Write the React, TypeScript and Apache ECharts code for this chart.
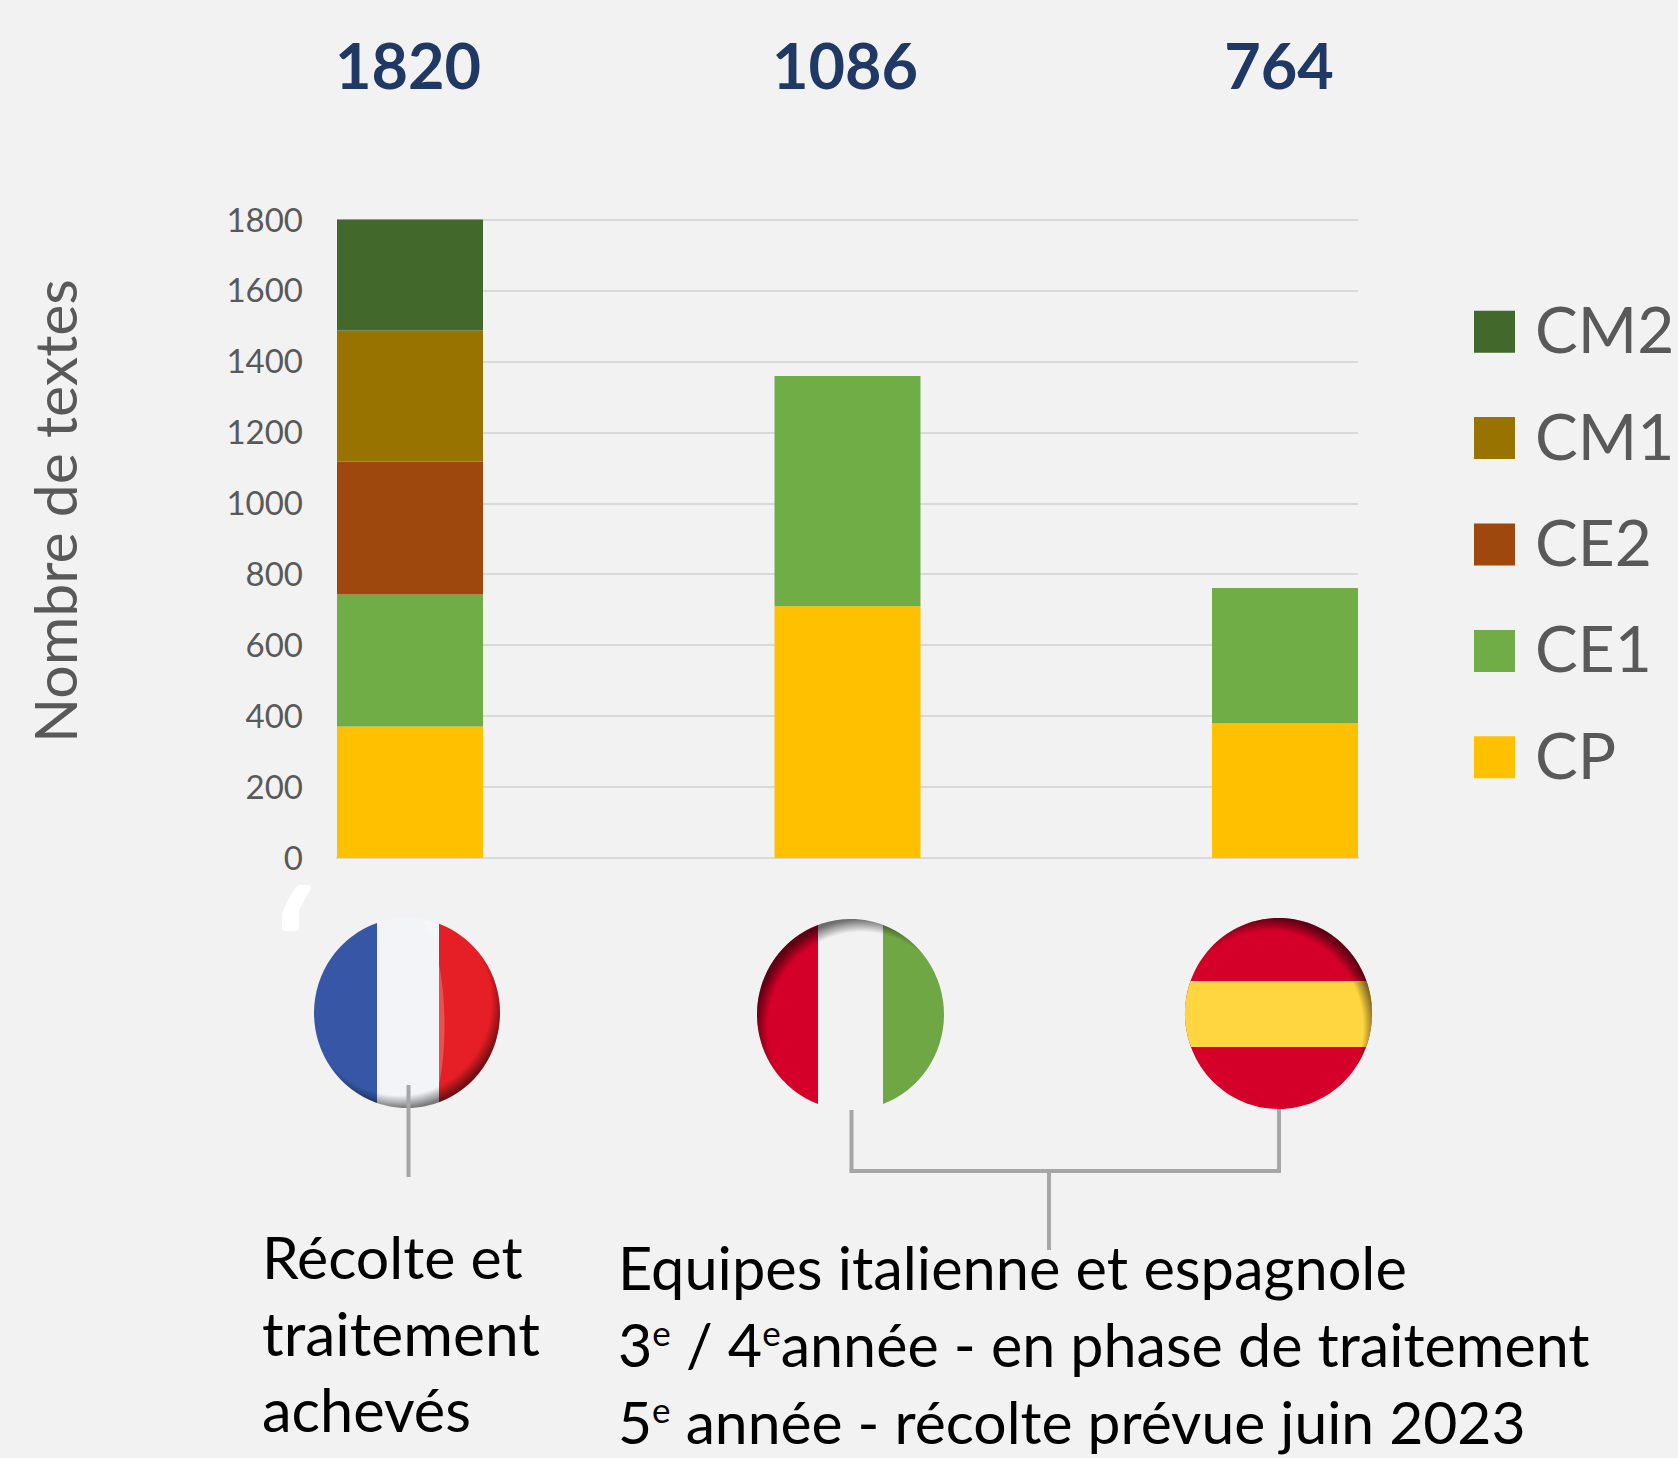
import React, { useEffect, useRef } from "react";
import * as echarts from "echarts";

const categories = ["France", "Italie", "Espagne"];
const cp = [371, 710, 380];
const ce1 = [372, 649, 381];
const ce2 = [375, 0, 0];
const cm1 = [369, 0, 0];
const cm2 = [333, 0, 0];
const totals = ["1820", "1086", "764"];
const legendOrder = ["CM2", "CM1", "CE2", "CE1", "CP"];
const yMax = 1800;
const yStep = 200;

const FONT = "Lato, 'Noto Sans', sans-serif";

function leftSeg(cx: number, cy: number, rx: number, ry: number, x: number) {
  const dy = ry * Math.sqrt(1 - ((x - cx) / rx) ** 2);
  return `M${x} ${cy - dy} A${rx} ${ry} 0 0 0 ${x} ${cy + dy} Z`;
}
function rightSeg(cx: number, cy: number, rx: number, ry: number, x: number) {
  const dy = ry * Math.sqrt(1 - ((x - cx) / rx) ** 2);
  return `M${x} ${cy - dy} A${rx} ${ry} 0 0 1 ${x} ${cy + dy} Z`;
}
function band(cx: number, cy: number, rx: number, ry: number, y0: number, y1: number) {
  const d0 = rx * Math.sqrt(1 - ((y0 - cy) / ry) ** 2);
  const d1 = rx * Math.sqrt(1 - ((y1 - cy) / ry) ** 2);
  return `M${cx - d0} ${y0} L${cx + d0} ${y0} A${rx} ${ry} 0 0 1 ${cx + d1} ${y1} L${cx - d1} ${y1} A${rx} ${ry} 0 0 1 ${cx - d0} ${y0} Z`;
}

const shapes: Record<string, string> = {
  frLeft: leftSeg(407, 1013, 93, 95, 377),
  frRight: rightSeg(407, 1013, 93, 95, 439),
  frGloss: "M422 919 C436 922 439 926 439 926 L439 1085 C447 1050 450 960 422 919 Z",
  itLeft: leftSeg(850.5, 1014.5, 93.5, 95.5, 818),
  itRight: rightSeg(850.5, 1014.5, 93.5, 95.5, 883),
  esBand: band(1278.5, 1013.5, 93.5, 95.5, 981, 1047),
  comma: "M298 885 L308 885 C311 885 311 888 310 890 L299 910 L299 927 C299 930 297 931 294 931 L287 931 C284 931 282 930 282 926 L282 915 C284 906 293 890 298 885 Z",
};
Object.entries(shapes).forEach(([k, d]) => {
  echarts.graphic.registerShape(k, echarts.graphic.extendPath(d, {}));
});

const vignette = (x: number, y: number, r: number, a: number) =>
  new echarts.graphic.RadialGradient(x, y, r, [
    { offset: 0, color: "rgba(0,0,0,0)" },
    { offset: 0.88, color: "rgba(0,0,0,0)" },
    { offset: 1, color: `rgba(0,0,0,${a})` },
  ]);

const ellipse = (cx: number, cy: number, rx: number, ry: number, fill: any) => ({
  type: "ellipse",
  shape: { cx, cy, rx, ry },
  style: { fill },
});
const path = (type: string, fill: string) => ({ type, x: 0, y: 0, style: { fill } });
const line = (x1: number, y1: number, x2: number, y2: number) => ({
  type: "line",
  shape: { x1, y1, x2, y2 },
  style: { stroke: "#a6a6a6", lineWidth: 4 },
});
const body = (x: number, y: number, text: string, size: number) => ({
  type: "text",
  x,
  y,
  style: { text, fill: "#000", font: `${size}px ${FONT}`, verticalAlign: "middle" },
});
const sup = (x: number, y: number, parts: string, size: number) => ({
  type: "text",
  x,
  y,
  style: {
    text: parts,
    fill: "#000",
    font: `${size}px ${FONT}`,
    verticalAlign: "middle",
    rich: {
      a: { fontFamily: FONT, fontSize: size, fill: "#000" },
      s: { fontFamily: FONT, fontSize: 35, fill: "#000", verticalAlign: "top", lineHeight: 24 },
    },
  },
});
const total = (x: number, text: string) => ({
  type: "text",
  x,
  y: 64,
  style: { text, fill: "#1f3864", font: `bold 63px ${FONT}`, align: "center", verticalAlign: "middle" },
});

export default function App() {
  const ref = useRef<HTMLDivElement>(null);
  useEffect(() => {
    const chart = echarts.init(ref.current!, undefined, { renderer: "svg" });
    const colors = ["#ffc000", "#70ad47", "#9e480e", "#997300", "#43682b"];
    const names = ["CP", "CE1", "CE2", "CM1", "CM2"];
    const vals = [cp, ce1, ce2, cm1, cm2];
    chart.setOption({
      animation: false,
      backgroundColor: "#f2f2f2",
      grid: [
        { left: 337, width: 1021, top: 219.5, height: 638.5 },
        { left: 191.25, width: 1312.5, top: 219.5, height: 638.5 },
      ],
      xAxis: [
        {
          gridIndex: 0,
          type: "category",
          data: categories,
          axisTick: { show: false },
          axisLabel: { show: false },
          axisLine: { lineStyle: { color: "#d9d9d9", width: 2 } },
        },
        {
          gridIndex: 1,
          type: "category",
          data: categories,
          axisTick: { show: false },
          axisLabel: { show: false },
          axisLine: { show: false },
        },
      ],
      yAxis: [
        {
          gridIndex: 0,
          type: "value",
          min: 0,
          max: yMax,
          interval: yStep,
          axisLine: { show: false },
          axisTick: { show: false },
          axisLabel: {
            margin: 34,
            formatter: (v: number) => `{t|${v}}`,
            rich: {
              t: { color: "#595959", fontSize: 33, fontFamily: FONT, padding: [0, 0, 2, 0] },
            },
          },
          splitLine: { lineStyle: { color: "#d9d9d9", width: 2 } },
        },
        {
          gridIndex: 1,
          type: "value",
          min: 0,
          max: yMax,
          interval: yStep,
          show: false,
          splitLine: { show: false },
        },
      ],
      legend: {
        orient: "vertical",
        left: 1474,
        top: 296.7,
        padding: 0,
        itemWidth: 41,
        itemHeight: 42,
        itemGap: 42.4,
        icon: "rect",
        selectedMode: false,
        data: legendOrder,
        formatter: "{t|{name}}",
        textStyle: {
          padding: [0, 0, 0, 15],
          rich: {
            t: { color: "#595959", fontSize: 64, fontFamily: FONT, padding: [0, 0, 6, 0] },
          },
        },
      },
      series: names.map((name, i) => ({
        name,
        type: "bar",
        stack: "total",
        xAxisIndex: 1,
        yAxisIndex: 1,
        barWidth: 146,
        itemStyle: { color: colors[i] },
        data: vals[i],
      })),
      graphic: {
        elements: [
          total(408, totals[0]),
          total(845, totals[1]),
          total(1279, totals[2]),
          {
            type: "text",
            x: 54,
            y: 511,
            rotation: Math.PI / 2,
            style: {
              text: "Nombre de textes",
              fill: "#595959",
              font: `59px ${FONT}`,
              align: "center",
              verticalAlign: "middle",
            },
          },
          path("comma", "#ffffff"),
          ellipse(407, 1013, 93, 95, "#f3f4f8"),
          path("frLeft", "#3757a6"),
          path("frRight", "#e61e25"),
          path("frGloss", "rgba(255,255,255,0.22)"),
          ellipse(407, 1013, 93, 95, vignette(0.46, 0.44, 0.56, 0.5)),
          ellipse(850.5, 1014.5, 93.5, 95.5, "#f2f2f2"),
          path("itLeft", "#d50029"),
          path("itRight", "#6fa745"),
          ellipse(850.5, 1014.5, 93.5, 95.5, vignette(0.56, 0.57, 0.57, 0.55)),
          ellipse(1278.5, 1013.5, 93.5, 95.5, "#d50029"),
          path("esBand", "#ffd640"),
          ellipse(1278.5, 1013.5, 93.5, 95.5, vignette(0.45, 0.57, 0.57, 0.55)),
          line(408.5, 1085, 408.5, 1177),
          line(851.5, 1110, 851.5, 1171),
          line(849.5, 1171, 1281, 1171),
          line(1279, 1109, 1279, 1171),
          line(1049, 1171, 1049, 1250),
          body(262, 1256, "Récolte et", 59),
          body(262, 1332, "traitement", 60.5),
          body(262, 1409, "achevés", 59.5),
          body(618, 1267, "Equipes italienne et espagnole", 59.5),
          sup(618, 1344, "{a|3}{s|e}{a| / 4}{s|e}{a|année - en phase de traitement}", 59.2),
          sup(618, 1421, "{a|5}{s|e}{a| année - récolte prévue juin 2023}", 58.8),
        ],
      },
    });
    return () => chart.dispose();
  }, []);
  return (
    <div
      ref={ref}
      style={{ position: "absolute", left: 0, top: 0, width: 1678, height: 1458 }}
    />
  );
}
